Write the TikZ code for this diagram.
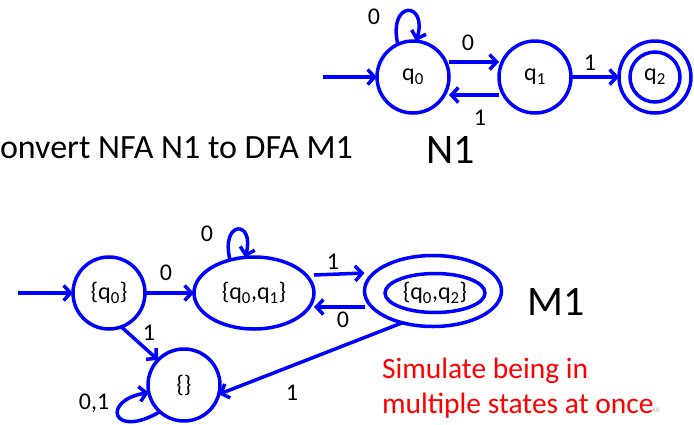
\documentclass[tikz,border=0pt]{standalone}
\usepackage{fontspec}
\setmainfont{Carlito}
\usetikzlibrary{arrows.meta,shapes.geometric}
\definecolor{stroke}{RGB}{0,0,255}
\begin{document}
\begin{tikzpicture}[x=1pt,y=-1pt,
  every node/.style={inner sep=0pt, outer sep=0pt},
  state/.style={circle, draw=stroke, line width=3.5pt, minimum size=72pt,
    font=\fontsize{24}{26}\selectfont},
  oval/.style={ellipse, draw=stroke, line width=3.5pt,
    font=\fontsize{24}{26}\selectfont},
  ring/.style={draw=stroke, line width=3.5pt},
  arr/.style={draw=stroke, line width=3.5pt,
    -{Straight Barb[length=7pt,width=15pt]}},
  lbl/.style={font=\fontsize{24}{26}\selectfont},
  big/.style={font=\fontsize{42}{46}\selectfont, anchor=base},
  note/.style={font=\fontsize{29.5}{33}\selectfont, text=red, anchor=base west}]
\useasboundingbox (0,0) rectangle (694,424);

% ---------- NFA N1 ----------
\node[state] (q0) at (413,77) {q\textsubscript{0}};
\node[state] (q1) at (535,77) {q\textsubscript{1}};
\node[state] (q2) at (655,77) {q\textsubscript{2}};
\draw[ring] (q2.center) circle (25pt);
\coordinate (n1start) at (323,77);

\draw[arr] (n1start) -- (q0);
\draw[arr] (q0.115) .. controls +(-10,-45) and +(12,-40) .. (q0.85);
\draw[arr] ([yshift=15pt]q0.east) -- ([yshift=15pt]q1.west);
\draw[arr] ([yshift=-18pt]q1.west) -- ([yshift=-18pt]q0.east);
\draw[arr] (q1) -- (q2);

\node[lbl] (l00) at (374,17) {0};
\node[lbl] (l01) at (468,43) {0};
\node[lbl] (l10) at (480,118) {1};
\node[lbl] (l12) at (590,63) {1};

\node[big] (n1name) at (451,163) {N1};
\node[font=\fontsize{34}{40}\selectfont, anchor=base west] (title) at (0,158)
  {onvert NFA N1 to DFA M1};

% ---------- DFA M1 ----------
\node[state] (s0) at (109,293) {\{q\textsubscript{0}\}};
\node[oval, minimum width=120pt, minimum height=72pt] (s01) at (254,293)
  {\{q\textsubscript{0},q\textsubscript{1}\}};
\node[oval, minimum width=137pt, minimum height=71pt] (s02) at (433,291) {};
\node[oval, minimum width=100pt, minimum height=39pt] (s02in) at (435,293)
  {\{q\textsubscript{0},q\textsubscript{2}\}};
\node[state] (e) at (184,385) {\{\}};
\coordinate (m1start) at (18,293);

\draw[arr] (m1start) -- (s0);
\draw[arr] (s0) -- (s01);
\draw[arr] (s01.126) .. controls +(-10,-40) and +(10,-38) .. (s01.104);
\draw[arr] ([yshift=18pt]s01.east) -- ([yshift=18pt]s02.west);
\draw[arr] ([yshift=-16pt]s02.west) -- ([yshift=-14pt]s01.east);
\draw[arr] (s0.-70) -- (e.136);
\draw[arr] (s02.-134) -- (e.-15);
\draw[arr] (e.228) .. controls +(-48,28) and +(-48,8) .. (e.192);

\node[lbl] (m0a) at (166,273) {0};
\node[lbl] (m0b) at (207,234) {0};
\node[lbl] (m1a) at (333,262) {1};
\node[lbl] (m0c) at (343,320) {0};
\node[lbl] (m1b) at (149,333) {1};
\node[lbl] (m01) at (94,403) {0,1};
\node[lbl] (m1c) at (292,393) {1};

\node[big] (m1name) at (556,315) {M1};
\node[note] (note1) at (382,378) {Simulate being in};
\node[note] (note2) at (382,413) {multiple states at once};
\node[font=\fontsize{7}{8}\selectfont, text=gray!70] (pnum) at (656,410) {40};
\end{tikzpicture}
\end{document}
